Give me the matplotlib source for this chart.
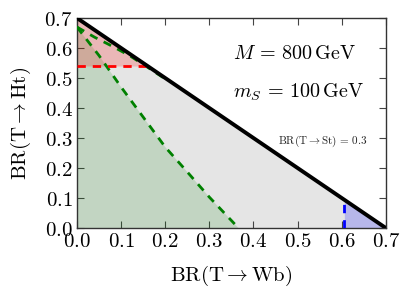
import matplotlib
matplotlib.use("Agg")
import matplotlib.pyplot as plt
import numpy as np
from matplotlib.ticker import FuncFormatter

plt.rcParams['mathtext.fontset'] = 'cm'
plt.rcParams['font.family'] = ['DejaVu Serif']

# Data
total = 0.7                       # BR(T->Wb) + BR(T->Ht) = 1 - BR(T->St)
bound_x = [0.0, 0.7]
bound_y = [0.7, 0.0]

# Green limit (steep contour)
green_x = [0.0, 0.05, 0.10, 0.15, 0.20, 0.25, 0.30, 0.366]
green_y = [0.670, 0.575, 0.470, 0.370, 0.270, 0.187, 0.103, 0.0]

# Green contour running just below the boundary
green2_x = [0.0, 0.04, 0.08, 0.12, 0.16, 0.20]
green2_y = [0.670, 0.636, 0.606, 0.574, 0.536, 0.497]

red_limit_y = 0.54      # BR(T->Ht) limit
blue_limit_x = 0.606    # BR(T->Wb) limit

xticks = [0.0, 0.1, 0.2, 0.3, 0.4, 0.5, 0.6, 0.7]
yticks = [0.0, 0.1, 0.2, 0.3, 0.4, 0.5, 0.6, 0.7]

fig = plt.figure(figsize=(4.07, 3.0), dpi=100)
ax = fig.add_axes([0.189, 0.24, 0.759, 0.70])

xx = np.linspace(0, total, 200)
# gray allowed triangle
ax.fill_between(xx, 0, total - xx, color='#e5e5e5', lw=0, zorder=1)

# green excluded region (left of steep contour)
ax.fill([0.0] + list(green_x) + [0.0], [total] + list(green_y) + [0.0],
        color='green', alpha=0.15, lw=0, zorder=2)

# red excluded region (above Ht limit)
xr = np.linspace(0, total - red_limit_y, 50)
ax.fill_between(xr, red_limit_y, total - xr, color='red', alpha=0.2, lw=0, zorder=2)

# blue excluded region (right of Wb limit)
xb = np.linspace(blue_limit_x, total, 50)
ax.fill_between(xb, 0, total - xb, color='blue', alpha=0.2, lw=0, zorder=2)

# contour lines
dash = (3, 2.5)
ax.plot(green_x, green_y, color='green', lw=2, dashes=dash, zorder=3)
ax.plot(green2_x, green2_y, color='green', lw=2, dashes=dash, zorder=3)
ax.plot([0, total - red_limit_y], [red_limit_y, red_limit_y], color='red', lw=2,
        dashes=dash, zorder=3)
ax.plot([blue_limit_x, blue_limit_x], [0, total - blue_limit_x], color='blue', lw=2,
        dashes=dash, zorder=3)
ax.plot(bound_x, bound_y, color='black', lw=2.8, zorder=4, solid_capstyle='butt')

ax.set_xlim(0, 0.7)
ax.set_ylim(0, 0.7)
ax.set_xticks(xticks)
ax.set_yticks(yticks)
fmt = FuncFormatter(lambda v, p: r'$%.1f$' % v)
ax.xaxis.set_major_formatter(fmt)
ax.yaxis.set_major_formatter(fmt)
ax.tick_params(direction='in', top=True, right=True, length=5, width=0.8,
               color='#444444', labelsize=15, pad=3)
for s in ax.spines.values():
    s.set_color('#333333')
    s.set_linewidth(1.0)

ax.set_xlabel(r'$\mathrm{BR}(\mathrm{T}\rightarrow\mathrm{Wb})$', fontsize=15, labelpad=9)
ax.set_ylabel(r'$\mathrm{BR}(\mathrm{T}\rightarrow\mathrm{Ht})$', fontsize=15, labelpad=8)

ax.text(0.354, 0.582, r'$M\,=\,800\,\mathrm{GeV}$', fontsize=14.5, va='center', ha='left', zorder=5)
ax.text(0.354, 0.451, r'$m_S\,=\,100\,\mathrm{GeV}$', fontsize=14.5, va='center', ha='left', zorder=5)
ax.text(0.456, 0.289, r'$\mathrm{BR}(\mathrm{T}\rightarrow\mathrm{St})\,=\,0.3$', fontsize=8,
        va='center', ha='left', color='#222222', zorder=5)

fig.savefig('out.png', dpi=100)
